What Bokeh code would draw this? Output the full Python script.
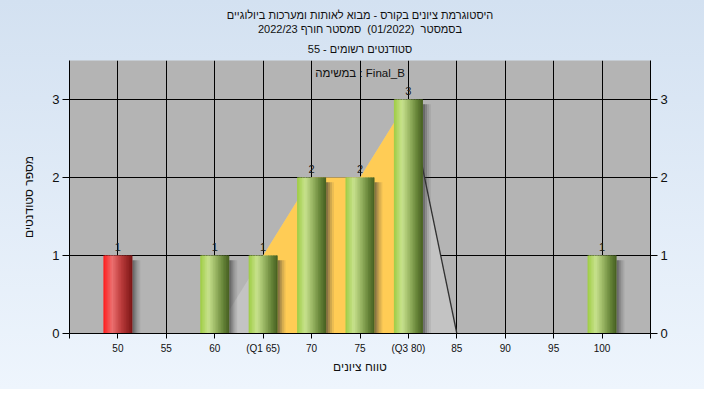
import numpy as np
from bokeh.plotting import figure
from bokeh.models import ColumnDataSource, FixedTicker, LinearAxis, Range1d, Label, Title
from bokeh.transform import dodge
from bokeh.core.properties import value
from bokeh.embed import file_html
from bokeh.resources import INLINE

# ---------------- data ----------------
grades = [50, 55, 60, 65, 70, 75, 80, 85, 90, 95, 100]
counts = [1, 0, 1, 1, 2, 2, 3, 0, 0, 0, 1]
tick_labels = ["50", "55", "60", "(Q1 65)", "70", "75", "(Q3 80)", "85", "90", "95", "100"]
area_x = [60, 65, 70, 75, 80, 85]
area_y = [0, 1, 2, 2, 3, 0]
q1, q3 = 65, 80
fail_below = 55

title_lines = [
    "היסטוגרמת ציונים בקורס - מבוא לאותות ומערכות ביולוגיים",
    "בסמסטר\u00a0\u00a0(01/2022)\u00a0\u00a0סמסטר חורף 2022/23",
    "סטודנטים רשומים - 55",
]
task_text = "במשימה : Final_B"
x_title = "טווח ציונים"
y_title = "מספר סטודנטים"

RLE, PDF = "\u202b", "\u202c"
FONT = "Liberation Sans, DejaVu Sans, sans-serif"

# ---------------- figure ----------------
p = figure(width=704, height=389, output_backend="svg", toolbar_location=None,
           x_range=Range1d(45, 105), y_range=Range1d(0, 3.5))
p.min_border_left = 69
p.min_border_right = 54
p.min_border_top = 60
p.min_border_bottom = 56
p.background_fill_color = "#b4b4b4"
p.border_fill_color = None
p.styles = {"background": "linear-gradient(to bottom, #d3e1f1, #eef5fd)"}
p.outline_line_color = None

# title: three lines, added from the frame outwards
for k, line in enumerate(reversed(title_lines)):
    p.add_layout(Title(text=RLE + line + PDF, align="center",
                       text_font_size="11px", text_font=FONT, text_font_style="normal",
                       text_color="#101010", standoff=(12 if k == 0 else 0)), "above")

# grid
p.xgrid.ticker = FixedTicker(ticks=grades)
p.ygrid.ticker = FixedTicker(ticks=[1, 2, 3])
for g in (p.xgrid[0], p.ygrid[0]):
    g.grid_line_color = "black"
    g.grid_line_width = 1

# axes
xa = p.xaxis[0]
xa.ticker = FixedTicker(ticks=[45] + grades + [105])
ov = {g: lab for g, lab in zip(grades, tick_labels)}
ov[45] = ""
ov[105] = ""
xa.major_label_overrides = ov
xa.major_label_text_font_size = "10px"
xa.major_label_text_font = FONT
xa.major_label_text_color = "#101010"
xa.major_label_standoff = 4
xa.major_tick_out = 5
xa.major_tick_in = 0
xa.minor_tick_out = 0
xa.minor_tick_in = 0
xa.axis_line_color = "black"
xa.major_tick_line_color = "black"
xa.axis_label = x_title
xa.axis_label_text_font = FONT
xa.axis_label_text_font_size = "12px"
xa.axis_label_text_font_style = "normal"
xa.axis_label_text_color = "#101010"
xa.axis_label_standoff = 3

ya = p.yaxis[0]
ya.ticker = FixedTicker(ticks=[0, 1, 2, 3])
ya.major_label_text_font_size = "13px"
ya.major_label_text_font = FONT
ya.major_label_text_color = "#101010"
ya.major_label_standoff = 3
ya.major_tick_out = 7
ya.major_tick_in = 0
ya.minor_tick_out = 0
ya.minor_tick_in = 0
ya.axis_line_color = "black"
ya.major_tick_line_color = "black"
ya.axis_label = y_title
ya.axis_label_text_font = FONT
ya.axis_label_text_font_size = "12px"
ya.axis_label_text_font_style = "normal"
ya.axis_label_text_color = "#101010"
ya.axis_label_standoff = 13

ra = LinearAxis(ticker=FixedTicker(ticks=[0, 1, 2, 3]))
ra.major_label_text_font_size = "13px"
ra.major_label_text_font = FONT
ra.major_label_text_color = "#101010"
ra.major_label_standoff = 3
ra.major_tick_out = 7
ra.major_tick_in = 0
ra.minor_tick_out = 0
ra.minor_tick_in = 0
ra.axis_line_color = "black"
ra.major_tick_line_color = "black"
p.add_layout(ra, "right")

# ---------------- area ----------------
p.varea(x=area_x, y1=[0] * len(area_x), y2=area_y, fill_color="#c3c3c3")
ox = [x for x in area_x if q1 <= x <= q3]
oy = [y for x, y in zip(area_x, area_y) if q1 <= x <= q3]
p.varea(x=ox, y1=[0] * len(ox), y2=oy, fill_color="#ffcc55")
p.line(x=area_x[-2:], y=area_y[-2:], line_color="#303030", line_width=1.3)

# ---------------- bars ----------------
bx = [g for g, c in zip(grades, counts) if c > 0]
bt = [c for c in counts if c > 0]
is_fail = [g < fail_below for g in bx]

green_stops = [(0.0, (158, 204, 66)), (0.28, (200, 226, 142)), (0.55, (150, 178, 96)),
               (0.8, (100, 130, 55)), (1.0, (70, 94, 32))]
red_stops = [(0.0, (255, 28, 28)), (0.3, (236, 112, 112)), (0.6, (190, 62, 62)),
             (1.0, (122, 20, 20))]


def interp(stops, t):
    for (p0, c0), (p1, c1) in zip(stops[:-1], stops[1:]):
        if p0 <= t <= p1:
            f = (t - p0) / (p1 - p0)
            return "#%02x%02x%02x" % tuple(int(round(a + (b - a) * f)) for a, b in zip(c0, c1))
    return "#%02x%02x%02x" % stops[-1][1]


W = 3.0
n = 18
data = dict(x=bx, top=bt, label=[str(c) for c in bt],
            stop=[max(c - 0.06, 0) for c in bt])
for i in range(n):
    t = (i + 0.5) / n
    data["c%d" % i] = [interp(red_stops if f else green_stops, t) for f in is_fail]
src = ColumnDataSource(data)

# shadow (soft, to the right of each bar)
for off, a in [(0.1, 0.6), (0.3, 0.4), (0.5, 0.22), (0.7, 0.1)]:
    p.vbar(x=dodge("x", W / 2 + off, range=p.x_range), top="stop", bottom=0, width=0.22,
           source=src, fill_color="#3a3a3a", fill_alpha=a, line_color=None)

for i in range(n):
    off = -W / 2 + (i + 0.5) * W / n
    wd = W / n * (1.0 if i == n - 1 else 1.6)
    shift = 0 if i == n - 1 else (wd - W / n) / 2
    p.vbar(x=dodge("x", off + shift, range=p.x_range), top="top", bottom=0, width=wd,
           source=src, fill_color="c%d" % i, line_color=None)

p.text(x="x", y="top", text="label", source=src, text_align="center",
       text_baseline="alphabetic", y_offset=-9, text_font_size="11px",
       text_font=value(FONT), text_color="#1a1a1a")

p.add_layout(Label(x=75, y=3.34, text=task_text, text_align="center",
                   text_baseline="middle", text_font_size="11.5px", text_font=FONT,
                   text_color="#101010"))

open("out.html", "w").write(file_html(p, INLINE))
